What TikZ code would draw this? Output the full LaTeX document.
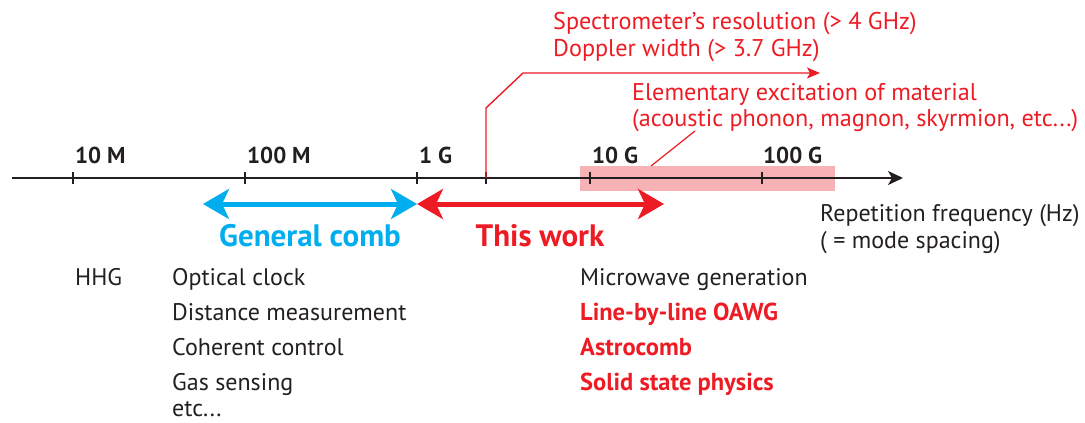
\documentclass[tikz,border=0pt]{standalone}
\usepackage{fontspec}
\setmainfont{PT Sans}
\usetikzlibrary{arrows.meta}
\definecolor{myred}{HTML}{ED1C24}
\definecolor{myblue}{HTML}{00AEEF}
\definecolor{mypink}{HTML}{F7B2B5}
\definecolor{myblack}{HTML}{231F20}
\tikzset{
  ticklabel/.style={anchor=base west,inner sep=0pt,font=\fontsize{23}{26}\selectfont\bfseries,text=myblack},
  item/.style={anchor=base west,inner sep=0pt,font=\fontsize{24}{28}\selectfont,text=myblack},
  reditem/.style={anchor=base west,inner sep=0pt,font=\fontsize{24.5}{28}\selectfont\bfseries,text=myred},
  note/.style={anchor=base west,inner sep=0pt,font=\fontsize{24.2}{28}\selectfont,text=myred},
  bigarrow/.style={line width=5pt,{Stealth[length=26pt,width=30pt,inset=7pt]}-{Stealth[length=26pt,width=30pt,inset=7pt]}},
  tickmark/.style={myblack,line width=1.2pt},
  rangelabel/.style={anchor=base,inner sep=0pt,font=\fontsize{31}{34}\selectfont\bfseries},
}
\begin{document}
\begin{tikzpicture}[x=1pt,y=-1pt]
\useasboundingbox (0,0) rectangle (1085,423);
% highlighted band
\fill[mypink] (580,166) rectangle (835,191);
% axis
\coordinate (axstart) at (12,178);
\coordinate (axend) at (903,178);
\draw[myblack,line width=1.5pt,-{Stealth[length=15pt,width=14pt,inset=4pt]}] (axstart) -- (axend);
% ticks
\foreach \n/\x in {t10M/73,t100M/245,t1G/417,tS/486,t10G/590,t100G/762}{
  \coordinate (\n) at (\x,178);
  \draw[tickmark] (\x,172) -- (\x,184);
}
\node[ticklabel] (l10M) at (75,163) {10 M};
\node[ticklabel] (l100M) at (247,163) {100 M};
\node[ticklabel] (l1G) at (419,163) {1 G};
\node[ticklabel] (l10G) at (592,163) {10 G};
\node[ticklabel] (l100G) at (763,163) {100 G};
% axis label
\node[item] (rep) at (820,221) {Repetition frequency (Hz)};
\node[item] (mode) at (820,248) {( = mode spacing)};
% range arrows
\coordinate (gcL) at (203,204);
\coordinate (gcR) at (417,204);
\coordinate (twL) at (417,204);
\coordinate (twR) at (664,204);
\draw[myblue,bigarrow] (gcL) -- (gcR);
\draw[myred,bigarrow] (twL) -- (twR);
\node[rangelabel,text=myblue] (gc) at (310,246) {General comb};
\node[rangelabel,text=myred] (tw) at (540,246) {This work};
% spectrometer callout
\coordinate (sp1) at (486,108);
\coordinate (sp2) at (523,73);
\coordinate (sp3) at (820,73);
\draw[myred,line width=1.4pt,-{Stealth[length=13pt,width=11pt,inset=3pt]}] (tS) -- (sp1) -- (sp2) -- (sp3);
\node[note] (spec) at (553,30) {Spectrometer’s resolution (> 4 GHz)};
\node[note] (dopp) at (553,56) {Doppler width (> 3.7 GHz)};
% elementary excitation callout
\coordinate (ee1) at (651,166);
\coordinate (ee2) at (695,131);
\draw[myred,line width=1.2pt] (ee1) -- (ee2);
\node[note] (elem) at (632,100) {Elementary excitation of material};
\node[note] (acou) at (632,126) {(acoustic phonon, magnon, skyrmion, etc...)};
% lists
\node[item] (hhg) at (75,285) {HHG};
\node[item] (oc) at (172,285) {Optical clock};
\node[item] (dm) at (172,320) {Distance measurement};
\node[item] (cc) at (172,355) {Coherent control};
\node[item] (gs) at (172,390) {Gas sensing};
\node[item] (etc) at (172,416) {etc...};
\node[item] (mw) at (580,285) {Microwave generation};
\node[reditem] (oawg) at (580,320) {Line-by-line OAWG};
\node[reditem] (astro) at (580,355) {Astrocomb};
\node[reditem] (ssp) at (580,390) {Solid state physics};
\end{tikzpicture}
\end{document}
